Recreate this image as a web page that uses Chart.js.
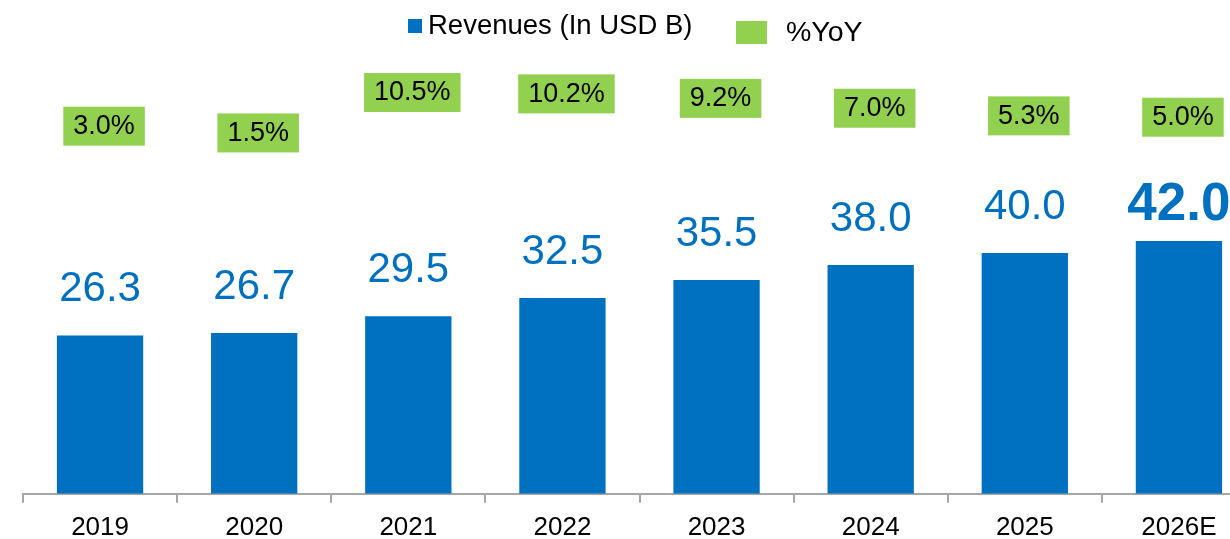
<!DOCTYPE html>
<html>
<head>
<meta charset="utf-8">
<script src="https://cdn.jsdelivr.net/npm/chart.js@4/dist/chart.umd.min.js"></script>
<style>
    html, body { margin: 0; padding: 0; background: #fff; overflow: hidden; }
    #wrap { position: relative; width: 1256px; height: 539px; overflow: hidden; }
    #box { position: absolute; left: 0; top: 0; width: 1256px; height: 552px; }
    .legend { position: absolute; font-family: Arial, 'Liberation Sans', sans-serif; color: #000; white-space: nowrap; }
    .sw { position: absolute; }
</style>
</head>
<body>
<div id="wrap">
    <div id="box"><canvas id="myChart"></canvas></div>
    <div class="sw" style="left:408px;top:19px;width:14px;height:14px;background:#0070C0"></div>
    <div class="legend" style="left:428px;top:9px;font-size:27.5px;">Revenues (In USD B)</div>
    <div class="sw" style="left:736px;top:21px;width:31px;height:23px;background:#92D050"></div>
    <div class="legend" style="left:786px;top:15px;font-size:28.5px;">%YoY</div>
</div>
<script>
const years = ['2019', '2020', '2021', '2022', '2023', '2024', '2025', '2026E'];
const revenues = [26.3, 26.7, 29.5, 32.5, 35.5, 38.0, 40.0, 42.0];
const yoy = [3.0, 1.5, 10.5, 10.2, 9.2, 7.0, 5.3, 5.0];

const blue = '#0070C0';
const green = '#92D050';
const font = "Arial, 'Liberation Sans', sans-serif";

// value labels above bars + green YoY boxes
const labelPlugin = {
    id: 'labels',
    afterDatasetsDraw(chart) {
        const ctx = chart.ctx;
        ctx.save();
        ctx.textAlign = 'center';
        ctx.textBaseline = 'alphabetic';
        chart.getDatasetMeta(0).data.forEach((bar, i) => {
            const last = i === revenues.length - 1;
            ctx.fillStyle = blue;
            ctx.font = (last ? 'bold 53px ' : '42px ') + font;
            ctx.fillText(revenues[i].toFixed(1), bar.x, bar.y - (last ? 21 : 34));
        });
        ctx.font = '27px ' + font;
        ctx.textBaseline = 'middle';
        chart.getDatasetMeta(1).data.forEach((pt, i) => {
            const txt = yoy[i].toFixed(1) + '%';
            const w = ctx.measureText(txt).width + 20;
            const cx = pt.x + 4;
            ctx.fillStyle = green;
            ctx.fillRect(cx - w / 2, pt.y - 19, w, 39);
            ctx.fillStyle = '#000';
            ctx.fillText(txt, cx, pt.y + 1);
        });
        ctx.restore();
    }
};

const ctx = document.getElementById('myChart').getContext('2d');
const myChart = new Chart(ctx, {
    type: 'bar',
    data: {
        labels: years,
        datasets: [{
            label: 'Revenues (In USD B)',
            data: revenues,
            backgroundColor: blue,
            barPercentage: 0.56,
            categoryPercentage: 1,
            yAxisID: 'y'
        }, {
            type: 'line',
            label: '%YoY',
            data: yoy,
            showLine: false,
            pointRadius: 0,
            yAxisID: 'y2'
        }]
    },
    options: {
        responsive: true,
        maintainAspectRatio: false,
        animation: false,
        layout: { padding: { left: 23, right: 0, top: 0, bottom: 0 } },
        plugins: { legend: { display: false }, tooltip: { enabled: false } },
        scales: {
            x: {
                grid: { display: true, drawOnChartArea: false, drawTicks: true, tickLength: 9, color: '#a6a6a6', lineWidth: 2 },
                border: { display: true, color: '#a6a6a6', width: 2 },
                ticks: { color: '#000', font: { family: font, size: 26 }, padding: 9 }
            },
            y: { display: false, min: 0, max: 82 },
            y2: { display: false, min: -79, max: 31 }
        }
    },
    plugins: [labelPlugin]
});
</script>
</body>
</html>
